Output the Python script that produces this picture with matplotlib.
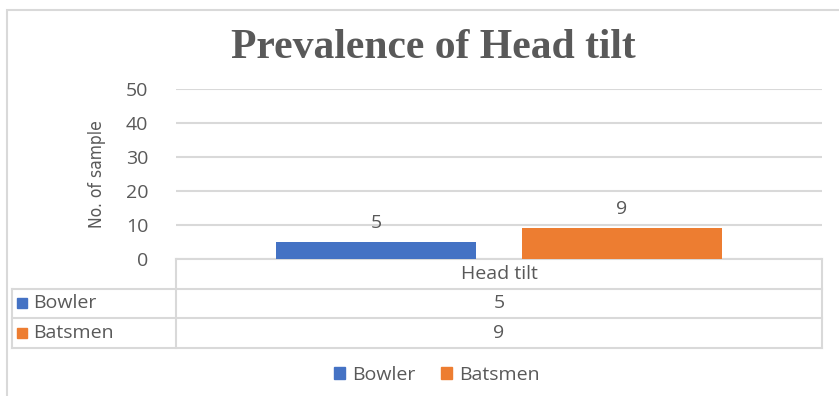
import matplotlib
matplotlib.use('Agg')
import matplotlib.pyplot as plt
from matplotlib.patches import Rectangle, Patch
from matplotlib.lines import Line2D

category = "Head tilt"
series = ["Bowler", "Batsmen"]
values = [5, 9]
colors = ["#4472C4", "#ED7D31"]
yticks = [0, 10, 20, 30, 40, 50]

W, H = 839, 396
fig = plt.figure(figsize=(W / 100, H / 100), dpi=100)

# axes box in pixels: x 176..822, y 89..259
ax = fig.add_axes([176 / W, 1 - 259 / H, (822 - 176) / W, (259 - 89) / H])

grey = "#595959"
line_c = "#D9D9D9"
fs = 14

offsets = [-0.19, 0.19]
for name, v, c, off in zip(series, values, colors, offsets):
    ax.bar(off, v, width=0.31, color=c, zorder=3)
    ax.text(off, v + 3.0, str(v), ha='center', va='bottom', fontsize=fs,
            color=grey, family='Open Sans')

ax.set_xlim(-0.5, 0.5)
ax.set_ylim(0, 50)
ax.set_yticks(yticks)
ax.set_yticklabels([str(t) for t in yticks], fontsize=fs, color=grey,
                   family='Open Sans')
ax.set_xticks([])
ax.tick_params(axis='y', length=0, pad=20)
ax.yaxis.grid(True, color=line_c, lw=1.5, zorder=0)
for s in ax.spines.values():
    s.set_visible(False)
ax.set_ylabel("No. of sample", fontsize=12.5, color=grey, family='DejaVu Sans',
              fontstretch='condensed', labelpad=14)

# data table below the axes (axes coords)
rh = 29.5 / 170
left = (12 - 176) / 646
T = ax.transAxes
kw = dict(transform=T, color=line_c, lw=1.5, clip_on=False)
ax.add_line(Line2D([0, 1], [0, 0], **kw))
for i in range(1, 4):
    ax.add_line(Line2D([left, 1], [-i * rh, -i * rh], **kw))
ax.add_line(Line2D([0, 0], [0, -3 * rh], **kw))
ax.add_line(Line2D([1, 1], [0, -3 * rh], **kw))
ax.add_line(Line2D([left, left], [-rh, -3 * rh], **kw))

ax.text(0.5, -0.5 * rh, category, transform=T, ha='center', va='center',
        fontsize=fs, color=grey, family='Open Sans')
for i, (name, v, c) in enumerate(zip(series, values, colors)):
    y = -(i + 1.5) * rh
    ax.add_patch(Rectangle((left + 5 / 646, y - 5 / 170), 10 / 646, 10 / 170,
                           transform=T, color=c, clip_on=False))
    ax.text(left + 21 / 646, y, name, transform=T, ha='left', va='center',
            fontsize=fs, color=grey, family='Open Sans')
    ax.text(0.5, y, str(v), transform=T, ha='center', va='center',
            fontsize=fs, color=grey, family='Open Sans')

fig.text(433 / W, 1 - 48 / H, "Prevalence of Head tilt", ha='center', va='center',
         fontsize=30, fontweight='bold', color=grey, family='Liberation Serif')

handles = [Patch(color=c, label=n) for n, c in zip(series, colors)]
leg = fig.legend(handles=handles, loc='center', bbox_to_anchor=(437 / W, 1 - 375 / H),
                 ncol=2, frameon=False, handlelength=0.55, handleheight=0.55,
                 handletextpad=0.4, columnspacing=1.3,
                 prop={'family': 'Open Sans', 'size': fs})
for t in leg.get_texts():
    t.set_color(grey)

# outer chart border
fig.add_artist(Rectangle((7 / W, -0.1), 1.2, 1 - 10 / H + 0.1, transform=fig.transFigure,
                         fill=False, edgecolor=line_c, lw=1.5))

fig.savefig("out.png", dpi=100)
